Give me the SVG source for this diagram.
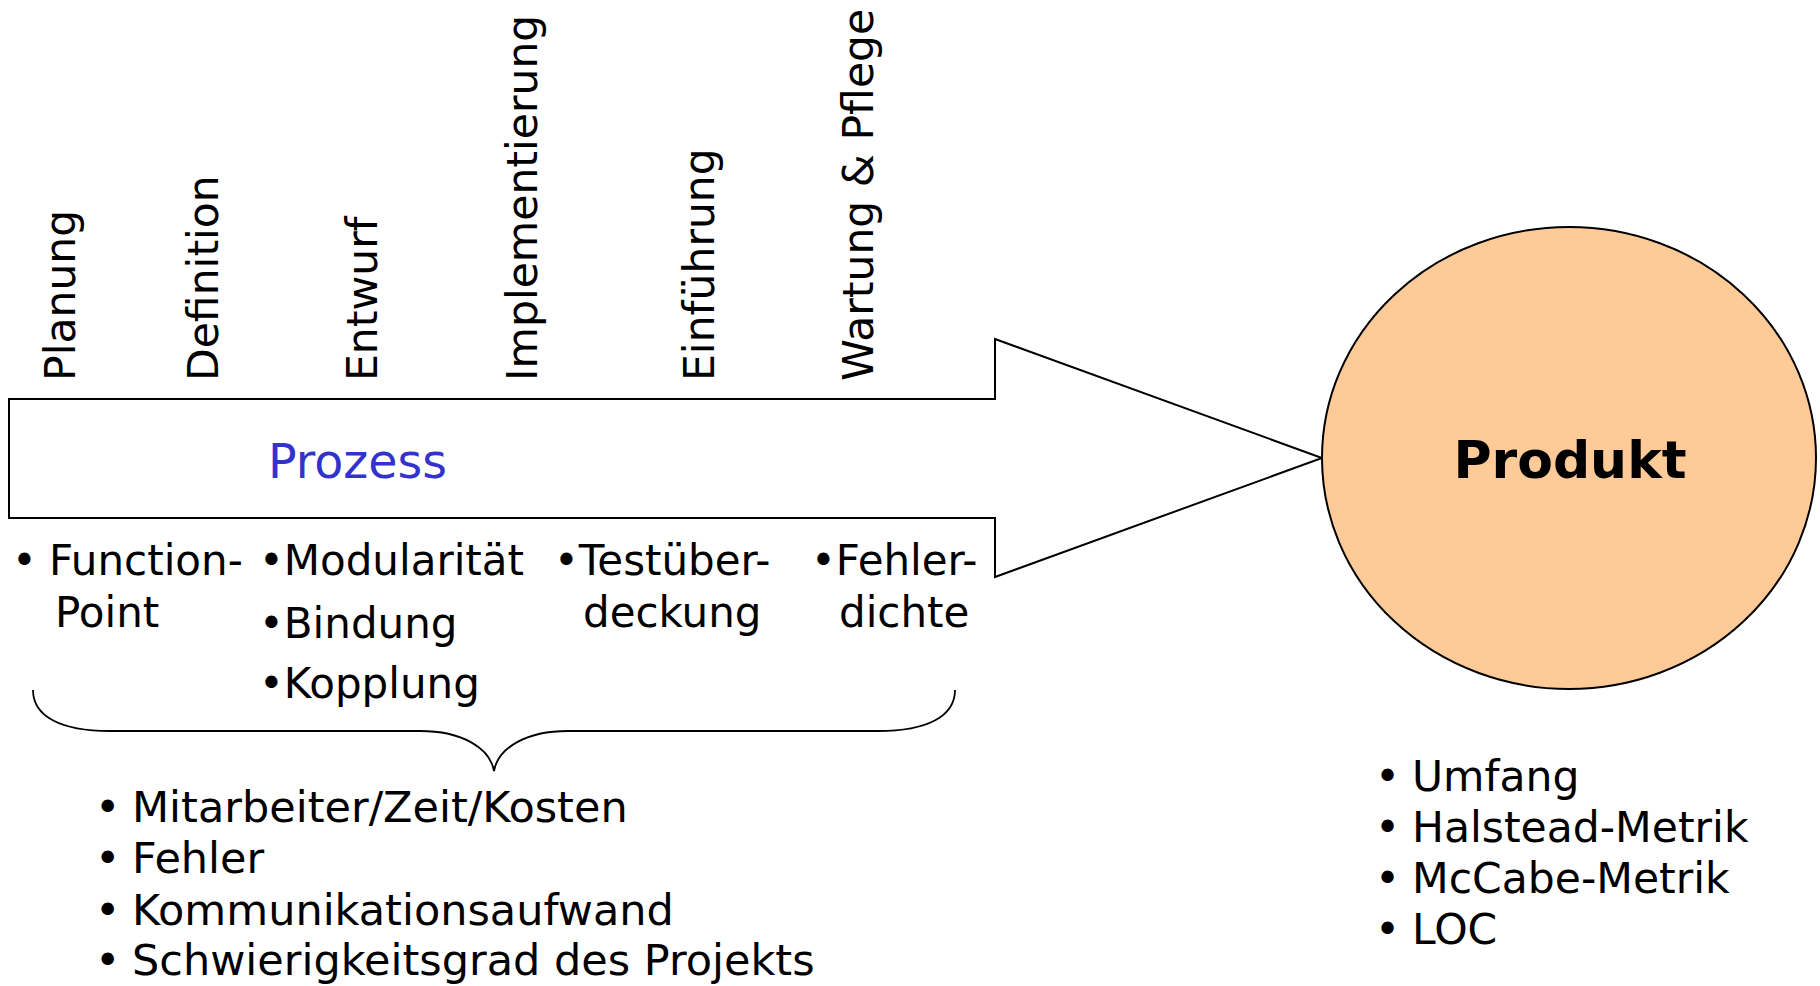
<svg xmlns="http://www.w3.org/2000/svg" width="1820" height="986" viewBox="0 0 1820 986">
<style>
text{font-family:"DejaVu Sans","Liberation Sans",sans-serif;fill:#000}
.v{font-size:42.5px}
.t{font-size:42px}
.b{font-size:43px}
.r{font-size:42.5px}
.shape{stroke:#000;stroke-width:2}
</style>
<rect width="1820" height="986" fill="#fff"/>
<g id="phases">
<text class="v" transform="translate(75,381) rotate(-90)">Planung</text>
<text class="v" transform="translate(218,381) rotate(-90)">Definition</text>
<text class="v" transform="translate(377,381) rotate(-90)">Entwurf</text>
<text class="v" transform="translate(537,381) rotate(-90)">Implementierung</text>
<text class="v" transform="translate(714,381) rotate(-90)">Einführung</text>
<text class="v" transform="translate(873,381) rotate(-90)">Wartung &amp; Pflege</text>
</g>
<g id="prozess">
<path class="shape" fill="#fff" d="M9,399 H995 V339 L1322,458 L995,577 V518 H9 Z"/>
<text x="268" y="478" style="font-size:47.5px;fill:#3333cc">Prozess</text>
</g>
<g id="produkt">
<ellipse class="shape" cx="1569" cy="458" rx="247" ry="231" fill="#fecb98"/>
<text x="1570" y="478" text-anchor="middle" style="font-size:52px;font-weight:bold">Produkt</text>
</g>
<g id="phase-metrics">
<text class="t" x="12" y="575">•</text><text class="t" x="49" y="575">Function-</text>
<text class="t" x="55" y="627">Point</text>
<text class="t" x="259" y="575">•Modularität</text>
<text class="t" x="259" y="638">•Bindung</text>
<text class="t" x="259" y="698">•Kopplung</text>
<text class="t" x="554" y="575">•Testüber-</text>
<text class="t" x="583" y="627">deckung</text>
<text class="t" x="811" y="575">•Fehler-</text>
<text class="t" x="839" y="627">dichte</text>
</g>
<g id="connectors">
<path fill="none" stroke="#000" stroke-width="1.8" d="M33,690 C33,716 60,731 110,731 H420 C462,731 490,748 494,771 C498,748 526,731 568,731 H878 C928,731 955,716 955,690"/>
</g>
<g id="process-metrics">
<text class="b" x="95" y="822">•</text><text class="b" x="132" y="822">Mitarbeiter/Zeit/Kosten</text>
<text class="b" x="95" y="873">•</text><text class="b" x="132" y="873">Fehler</text>
<text class="b" x="95" y="925">•</text><text class="b" x="132" y="925">Kommunikationsaufwand</text>
<text class="b" x="95" y="975">•</text><text class="b" x="132" y="975">Schwierigkeitsgrad des Projekts</text>
</g>
<g id="product-metrics">
<text class="r" x="1375" y="791">•</text><text class="r" x="1412" y="791">Umfang</text>
<text class="r" x="1375" y="842">•</text><text class="r" x="1412" y="842">Halstead-Metrik</text>
<text class="r" x="1375" y="893">•</text><text class="r" x="1412" y="893">McCabe-Metrik</text>
<text class="r" x="1375" y="944">•</text><text class="r" x="1412" y="944">LOC</text>
</g>
</svg>
